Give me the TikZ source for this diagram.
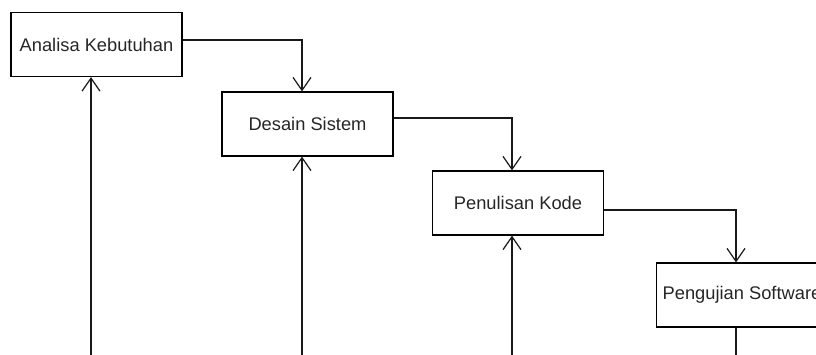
\documentclass[tikz,border=0pt]{standalone}
\usepackage{fontspec}
\setmainfont{Liberation Sans}
\usetikzlibrary{arrows.meta}
\begin{document}
\begin{tikzpicture}[x=1pt,y=-1pt,
  stepbox/.style={draw=black,line width=1.2pt,minimum width=171pt,minimum height=64pt,inner sep=0pt,
    font=\fontsize{18.3pt}{20pt}\selectfont,text=black!85},
  arr/.style={line width=1.2pt,draw=black!90,-{Straight Barb[length=13pt,width=18pt,line width=1.2pt]}},
  ln/.style={line width=1.2pt,draw=black!90}]
\clip (0,0) rectangle (816,354);
\useasboundingbox (0,0) rectangle (816,354);
\node[stepbox] (b1) at (96.5,44.5) {Analisa Kebutuhan};
\node[stepbox] (b2) at (307.5,124) {Desain Sistem};
\node[stepbox] (b3) at (518,203) {Penulisan Kode};
\node[stepbox] (b4) at (742,295) {Pengujian Software};
\coordinate (e1) at (91,360);
\coordinate (e2) at (302,360);
\coordinate (e3) at (512,360);
\coordinate (e4) at (736,360);
\draw[arr] (b1.east |- 0,40) -| (b2.north -| 302,0);
\draw[arr] (b2.east |- 0,118) -| (b3.north -| 512,0);
\draw[arr] (b3.east |- 0,210) -| (b4.north -| 736,0);
\draw[arr] (e1) -- (b1.south -| e1);
\draw[arr] (e2) -- (b2.south -| e2);
\draw[arr] (e3) -- (b3.south -| e3);
\draw[ln] (b4.south -| e4) -- (e4);
\end{tikzpicture}
\end{document}
